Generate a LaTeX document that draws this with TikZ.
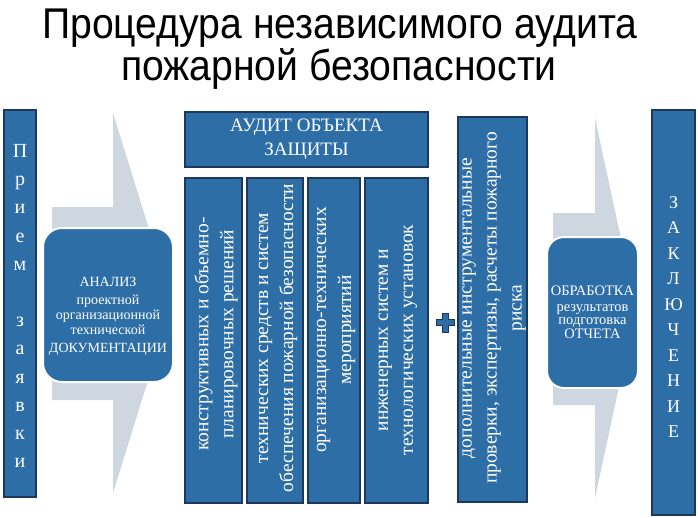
\documentclass[tikz,border=0pt]{standalone}
\usepackage{fontspec}
\setmainfont{Liberation Serif}
\newfontfamily\titlefont{Liberation Sans}
\definecolor{boxblue}{RGB}{46,110,166}
\definecolor{boxedge}{RGB}{28,56,90}
\definecolor{arrowgrey}{RGB}{206,214,224}
\tikzset{
  box/.style={fill=boxblue, draw=boxedge, line width=1.2pt, inner sep=0pt, outer sep=0pt},
  rbox/.style={fill=boxblue, draw=white, line width=2pt, rounded corners=19pt, inner sep=0pt, outer sep=0pt},
  wtxt/.style={text=white, align=center, inner sep=0pt},
  vtxt/.style={wtxt, rotate=90, font=\fontsize{19.5}{25}\selectfont},
  bigarrow/.style={fill=arrowgrey, draw=none},
  titletxt/.style={text=black, anchor=base, inner sep=0pt, font=\titlefont\fontsize{43}{43}\selectfont}
}
\begin{document}
\begin{tikzpicture}[x=1pt,y=-1pt]
\useasboundingbox (0,0) rectangle (698,517);
% title
\node[titletxt] (t1) at (340,38) {\scalebox{0.91}[1]{Процедура независимого аудита}};
\node[titletxt] (t2) at (339,80) {\scalebox{0.91}[1]{пожарной безопасности}};
% big grey arrows
\fill[bigarrow] (52,207) -- (113,207) -- (113,113) -- (172,303) -- (113,493) -- (113,400) -- (52,400) -- cycle;
\fill[bigarrow] (553,213) -- (595,213) -- (595,118) -- (636,308) -- (595,498) -- (595,405) -- (553,405) -- cycle;
% left bar
\node[box, minimum width=32pt, minimum height=387pt] (prem) at (20,303.5) {};
\node[wtxt, font=\fontsize{20}{28.2}\selectfont] (premt) at (20,306) {П\\р\\и\\е\\м\\[28.2pt]з\\а\\я\\в\\к\\и};
% analysis box
\node[rbox, minimum width=130pt, minimum height=154pt] (anal) at (108,305) {};
\node[wtxt, font=\fontsize{14}{15}\selectfont] (analt) at (108,316) {АНАЛИЗ\\[3pt]проектной\\организационной\\технической\\[3pt]ДОКУМЕНТАЦИИ};
% audit header
\node[box, minimum width=243pt, minimum height=55pt] (audit) at (306.5,139.5) {};
\node[wtxt, font=\fontsize{19}{24}\selectfont] (auditt) at (audit.center) {АУДИТ ОБЪЕКТА\\ЗАЩИТЫ};
% four columns
\node[box, minimum width=57pt, minimum height=325pt] (c1) at (213.5,340.5) {};
\node[box, minimum width=56pt, minimum height=325pt] (c2) at (275,340.5) {};
\node[box, minimum width=52pt, minimum height=325pt] (c3) at (334,340.5) {};
\node[box, minimum width=63pt, minimum height=325pt] (c4) at (396.5,340.5) {};
\node[vtxt] (c1t) at (216,334) {конструктивных и объемно-\\планировочных решений};
\node[vtxt] (c2t) at (278,338) {технических средств и систем\\обеспечения пожарной безопасности};
\node[vtxt] (c3t) at (336,330) {организационно-технических\\мероприятий};
\node[vtxt] (c4t) at (398,340) {инженерных систем и\\технологических установок};
% plus sign
\filldraw[fill=boxblue, draw=boxedge, line width=1pt]
  (442,313) -- (448,313) -- (448,319.5) -- (454,319.5) -- (454,325.5) -- (448,325.5) -- (448,332)
  -- (442,332) -- (442,325.5) -- (436,325.5) -- (436,319.5) -- (442,319.5) -- cycle;
% additional column
\node[box, minimum width=69pt, minimum height=385pt] (dop) at (492.5,309.5) {};
\node[vtxt] (dopt) at (494,308) {дополнительные инструментальные\\проверки, экспертизы, расчеты пожарного\\риска};
% processing box
\node[rbox, rounded corners=17pt, minimum width=91pt, minimum height=151pt] (obr) at (592.5,312.5) {};
\node[wtxt, font=\fontsize{14.5}{13.8}\selectfont] (obrt) at (592.5,312.5) {ОБРАБОТКА\\[1.5pt]результатов\\подготовка\\ОТЧЕТА};
% right bar
\node[box, minimum width=43pt, minimum height=405pt] (zakl) at (673.5,312.5) {};
\node[wtxt, font=\fontsize{18}{25.5}\selectfont] (zaklt) at (673.5,317) {З\\А\\К\\Л\\Ю\\Ч\\Е\\Н\\И\\Е};
\end{tikzpicture}
\end{document}
